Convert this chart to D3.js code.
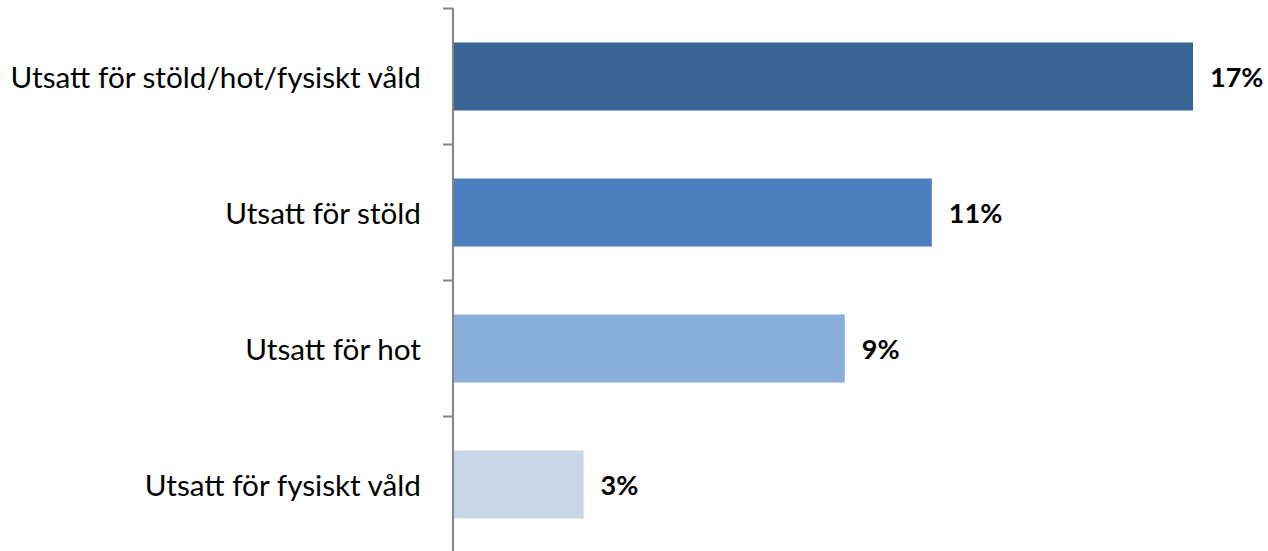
<!DOCTYPE html>
<html><head><meta charset="utf-8">
<script src="https://cdn.jsdelivr.net/npm/d3@7"></script>
<style>body{margin:0;background:#fff}svg{display:block}</style>
</head><body><svg id="c" width="1268" height="551"></svg>
<script>
const categories = ["Utsatt för stöld/hot/fysiskt våld","Utsatt för stöld","Utsatt för hot","Utsatt för fysiskt våld"];
const values = [17, 11, 9, 3];
const colors = ["#3B6496","#4A7EBF","#8AAEDA","#C8D7E7"];
const labels = ["17%","11%","9%","3%"];

const svg = d3.select("#c");
const x0 = 453;
const x = d3.scaleLinear().domain([0, 20]).range([x0, x0 + 20*43.53]);
const y = d3.scaleBand().domain(categories).range([8.5, 552.5]).paddingInner(0.5).paddingOuter(0.25);

svg.selectAll("rect.bar").data(categories).join("rect")
  .attr("class","bar")
  .attr("x", x(0))
  .attr("y", d => y(d))
  .attr("width", (d,i) => x(values[i]) - x(0))
  .attr("height", y.bandwidth())
  .attr("fill", (d,i) => colors[i]);

// axis
const step = y.step();
const ticks = d3.range(categories.length + 1).map(i => 8.5 + i*step);
svg.append("line").attr("x1", x0).attr("x2", x0).attr("y1", 8).attr("y2", 551)
  .attr("stroke", "#868686").attr("stroke-width", 2);
svg.selectAll("line.tick").data(ticks).join("line").attr("class","tick")
  .attr("x1", x0 - 10).attr("x2", x0).attr("y1", d => d).attr("y2", d => d)
  .attr("stroke", "#868686").attr("stroke-width", 2);

svg.selectAll("text.cat").data(categories).join("text").attr("class","cat")
  .attr("x", 421).attr("y", d => y(d) + y.bandwidth()/2)
  .attr("text-anchor","end").attr("dominant-baseline","central")
  .attr("font-family","Lato, 'Open Sans', sans-serif").attr("font-size", 29.7)
  .attr("fill","#000").text(d => d);

svg.selectAll("text.val").data(categories).join("text").attr("class","val")
  .attr("x", (d,i) => x(values[i]) + 17).attr("y", d => y(d) + y.bandwidth()/2)
  .attr("dominant-baseline","central")
  .attr("font-family","Lato, 'Open Sans', sans-serif").attr("font-weight","bold").attr("font-size", 27)
  .attr("fill","#000").text((d,i) => labels[i]);
</script></body></html>
